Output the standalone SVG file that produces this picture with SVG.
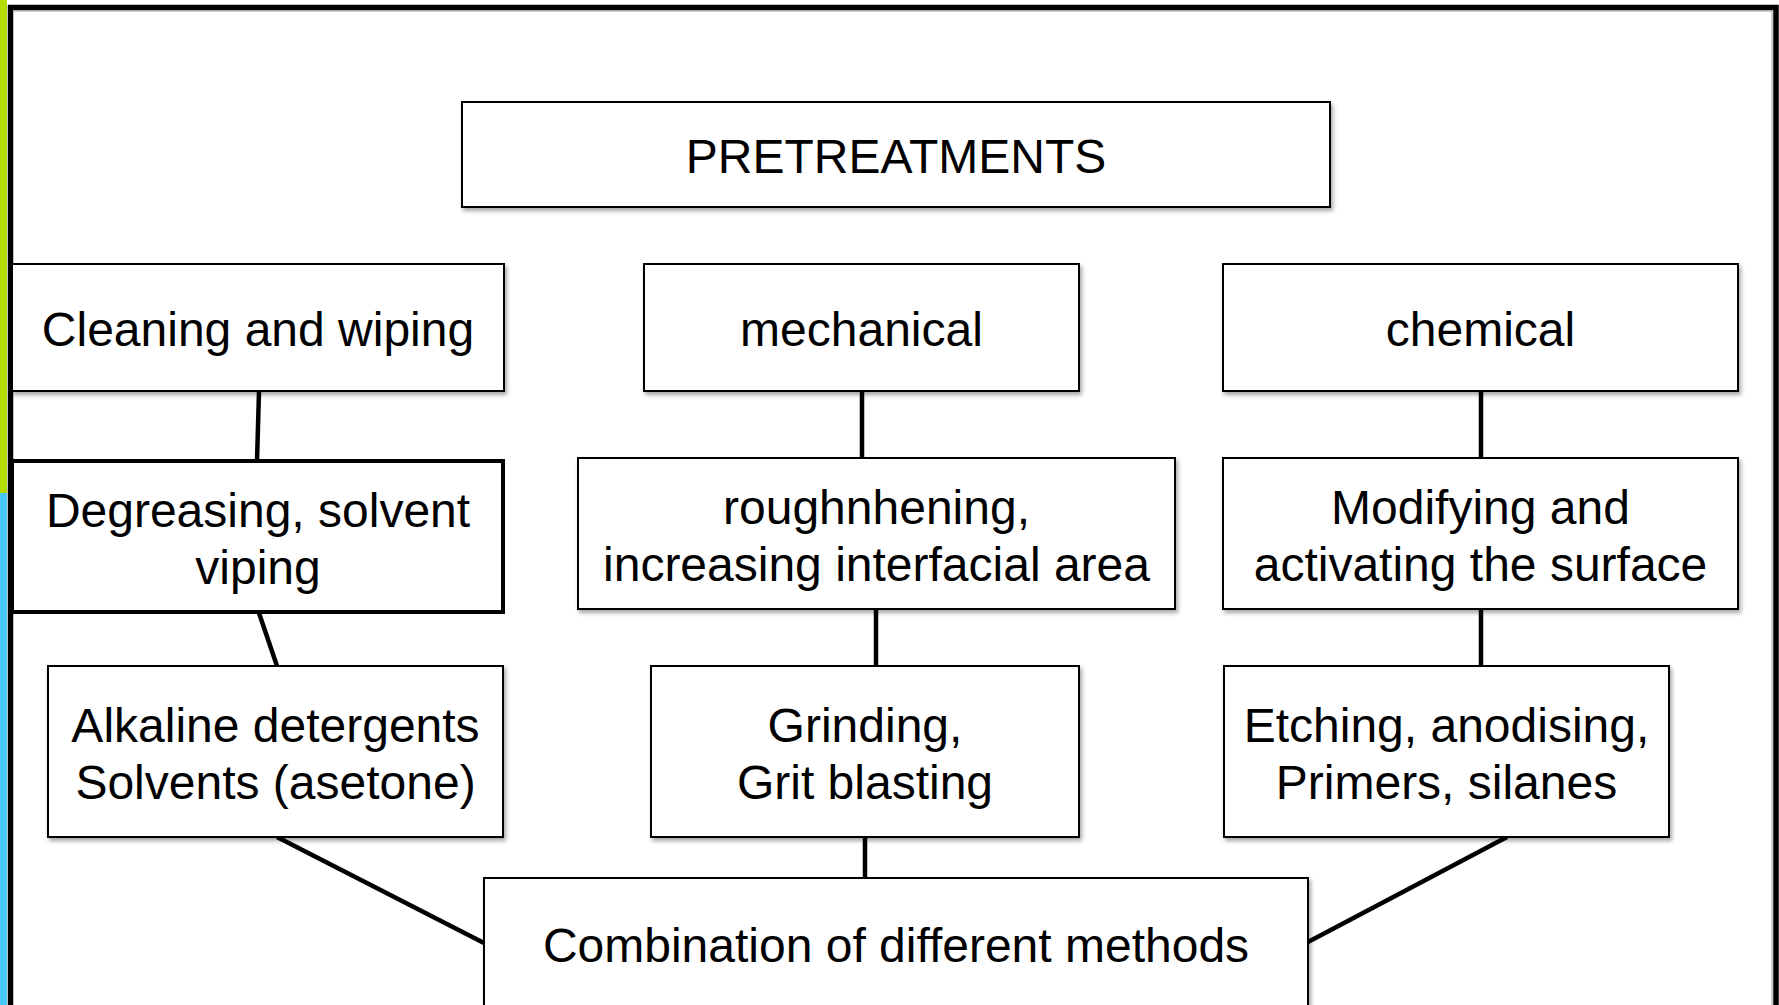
<svg xmlns="http://www.w3.org/2000/svg" width="1779" height="1005" viewBox="0 0 1779 1005">
<defs>
<filter id="sh" x="-5%" y="-5%" width="110%" height="115%">
<feDropShadow dx="2" dy="3" stdDeviation="2" flood-color="#000" flood-opacity="0.35"/>
</filter>
<style>
.box{fill:#fff;stroke:#000;stroke-width:2;filter:url(#sh)}
.thick{fill:#fff;stroke:#000;stroke-width:4}
.t{font-family:"Liberation Sans",Arial,sans-serif;font-size:48px;fill:#000;text-anchor:middle}
.c{stroke:#000;stroke-width:4.5;fill:none}
</style>
</defs>
<rect x="0" y="0" width="1779" height="1005" fill="#fff"/>
<rect x="0" y="0" width="7" height="493" fill="#b5dc00"/>
<rect x="0" y="493" width="7" height="512" fill="#47c8f8"/>
<rect x="10.5" y="7.5" width="1765.5" height="1020" fill="none" stroke="#000" stroke-width="5.5"/>
<line x1="13" y1="11" x2="1772" y2="11" stroke="#999" stroke-width="1"/>
<line x1="1772" y1="11" x2="1772" y2="1005" stroke="#999" stroke-width="1"/>
<g id="connectors">
<line class="c" x1="259" y1="391" x2="257" y2="461"/>
<line class="c" x1="259" y1="613" x2="277" y2="666"/>
<line class="c" x1="277" y1="837" x2="484" y2="943"/>
<line class="c" x1="862" y1="391" x2="862" y2="458"/>
<line class="c" x1="876" y1="609" x2="876" y2="666"/>
<line class="c" x1="865" y1="837" x2="865" y2="878"/>
<line class="c" x1="1481" y1="391" x2="1481" y2="458"/>
<line class="c" x1="1481" y1="609" x2="1481" y2="666"/>
<line class="c" x1="1507" y1="837" x2="1308" y2="942"/>
</g>
<g id="pretreatments">
<rect class="box" x="462" y="102" width="868" height="105"/>
<text class="t" x="896" y="173" font-size="47">PRETREATMENTS</text>
</g>
<g id="cleaning">
<rect class="box" x="12" y="264" width="492" height="127"/>
<text class="t" x="258" y="346">Cleaning and wiping</text>
</g>
<g id="mechanical">
<rect class="box" x="644" y="264" width="435" height="127"/>
<text class="t" x="861.5" y="346">mechanical</text>
</g>
<g id="chemical">
<rect class="box" x="1223" y="264" width="515" height="127"/>
<text class="t" x="1480.5" y="346">chemical</text>
</g>
<g id="degreasing">
<rect class="thick" x="12" y="461" width="491" height="151"/>
<text class="t" x="258" y="527">Degreasing, solvent</text>
<text class="t" x="258" y="584">viping</text>
</g>
<g id="roughening">
<rect class="box" x="578" y="458" width="597" height="151"/>
<text class="t" x="876.5" y="524">roughnhening,</text>
<text class="t" x="876.5" y="581">increasing interfacial area</text>
</g>
<g id="modifying">
<rect class="box" x="1223" y="458" width="515" height="151"/>
<text class="t" x="1480.5" y="524">Modifying and</text>
<text class="t" x="1480.5" y="581">activating the surface</text>
</g>
<g id="alkaline">
<rect class="box" x="48" y="666" width="455" height="171"/>
<text class="t" x="275.5" y="742">Alkaline detergents</text>
<text class="t" x="275.5" y="799">Solvents (asetone)</text>
</g>
<g id="grinding">
<rect class="box" x="651" y="666" width="428" height="171"/>
<text class="t" x="865" y="742">Grinding,</text>
<text class="t" x="865" y="799">Grit blasting</text>
</g>
<g id="etching">
<rect class="box" x="1224" y="666" width="445" height="171"/>
<text class="t" x="1446.5" y="742">Etching, anodising,</text>
<text class="t" x="1446.5" y="799">Primers, silanes</text>
</g>
<g id="combination">
<rect class="box" x="484" y="878" width="824" height="160"/>
<text class="t" x="896" y="962">Combination of different methods</text>
</g>
</svg>
